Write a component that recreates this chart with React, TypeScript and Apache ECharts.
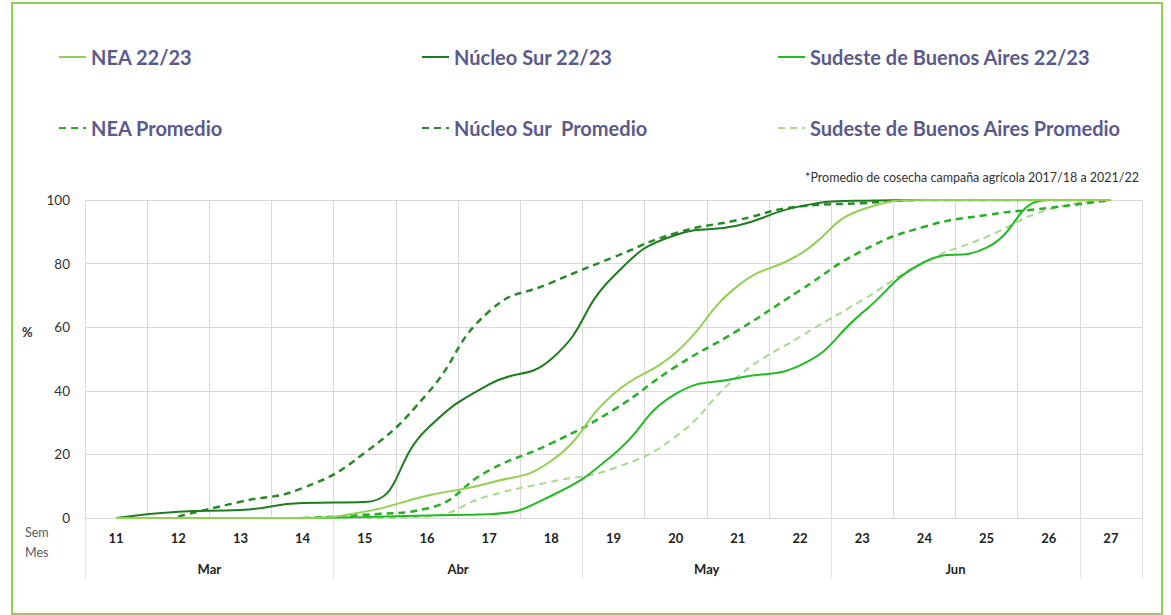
import React, { useEffect, useRef } from "react";
import * as echarts from "echarts";

const weeks = ["11", "12", "13", "14", "15", "16", "17", "18", "19", "20", "21", "22", "23", "24", "25", "26", "27"];
const months = ["Mar", "Abr", "May", "Jun", ""];
const monthSpans = [4, 4, 4, 4, 1];
const yTicks = [0, 20, 40, 60, 80, 100];

const nea2223 = [0, 0, 0, 0, 2, 7, 11, 18, 39, 52, 73, 83, 97, 100, 100, 100, 100];
const nucleo2223 = [0, 2, 2.5, 4.7, 5, 28, 42, 50, 76, 89, 92, 98, 99.8, 100, 100, 100, 100];
const sudeste2223 = [0, 0, 0, 0, 0.3, 0.8, 1.2, 7, 20, 39, 44, 48, 64.5, 80.5, 85, 100, 100];
const neaProm = [null, null, null, 0, 1, 3, 15, 23.5, 34, 47.6, 59, 71.6, 84, 91.6, 95.3, 97.5, 100];
const nucleoProm = [null, 0.5, 5.1, 9.4, 20.5, 39, 65, 74, 82, 89.6, 93.7, 98, 99, 100, 100, 100, 100];
const sudesteProm = [null, null, null, null, 0, 0.5, 7, 11.4, 15.6, 25.6, 44.5, 57, 68.5, 80.5, 88.4, 97, 100];

const seriesNames = [
  "NEA 22/23",
  "Núcleo Sur 22/23",
  "Sudeste de Buenos Aires 22/23",
  "NEA Promedio",
  "Núcleo Sur  Promedio",
  "Sudeste de Buenos Aires Promedio",
];
const seriesData = [nea2223, nucleo2223, sudeste2223, neaProm, nucleoProm, sudesteProm];
const seriesColors = ["#92d050", "#1e7b1e", "#22bb22", "#25b025", "#2a8a2a", "#a6d98a"];
const seriesDashed = [false, false, false, true, true, true];
const seriesWidth = [2, 2, 2, 2.5, 2.5, 2];

const subtitle = "*Promedio de cosecha campaña agrícola 2017/18 a 2021/22";
const FONT = "Lato, 'Open Sans', sans-serif";

export default function App() {
  const ref = useRef<HTMLDivElement>(null);
  useEffect(() => {
    if (!ref.current) return;
    const chart = echarts.init(ref.current, undefined, { renderer: "svg" });

    const monthStarts: number[] = [];
    const monthCenters: number[] = [];
    let acc = 0;
    monthSpans.forEach((s) => {
      monthStarts.push(acc);
      monthCenters.push(acc + s / 2);
      acc += s;
    });

    const legendPos = [
      [53, 40],
      [416, 40],
      [772, 40],
      [53, 111],
      [416, 111],
      [772, 111],
    ];

    const option: any = {
      animation: false,
      backgroundColor: "#ffffff",
      textStyle: { fontFamily: FONT },
      title: {
        text: subtitle,
        right: 27,
        top: 166,
        textStyle: { fontSize: 12.5, fontWeight: "normal", color: "#333333", fontFamily: FONT },
      },
      legend: seriesNames.map((n, i) => ({
        data: [n],
        left: legendPos[i][0],
        top: legendPos[i][1],
        itemWidth: 27,
        itemHeight: 2,
        itemGap: 0,
        selectedMode: false,
        itemStyle: { opacity: 0, borderWidth: 0 },
        textStyle: { fontSize: 20, fontWeight: "bold", color: "#5b5a8c", lineHeight: 24 },
      })),
      grid: { left: 85, right: 29, top: 200, bottom: 97 },
      xAxis: [
        {
          type: "category",
          data: weeks,
          boundaryGap: true,
          axisLine: { show: true, lineStyle: { color: "#d9d9d9" } },
          axisTick: {
            show: true,
            length: 61,
            interval: (index: number) => monthStarts.indexOf(index) >= 0,
            lineStyle: { color: "#e3e3e3" },
          },
          axisLabel: { interval: 0, margin: 13, fontSize: 13, fontWeight: "bold", color: "#222222" },
          splitLine: { show: true, interval: 0, lineStyle: { color: "#d9d9d9" } },
        },
        {
          type: "value",
          min: 0,
          max: weeks.length,
          position: "bottom",
          axisLine: { show: false },
          axisTick: { show: false },
          splitLine: { show: false },
          axisLabel: {
            customValues: monthCenters.filter((_, i) => months[i] !== ""),
            formatter: (v: number) => {
              const i = monthCenters.indexOf(v);
              return i >= 0 ? months[i] : "";
            },
            margin: 44,
            fontSize: 13,
            fontWeight: "bold",
            color: "#222222",
          },
        },
      ],
      yAxis: {
        type: "value",
        min: 0,
        max: 100,
        interval: 20,
        axisLine: { show: false },
        axisTick: { show: false },
        axisLabel: {
          margin: 15,
          fontSize: 13.5,
          color: "#333333",
          formatter: (v: number) => (yTicks.indexOf(v) >= 0 ? String(v) : ""),
        },
        splitLine: { show: true, lineStyle: { color: "#d9d9d9" } },
      },
      graphic: [
        {
          type: "rect",
          shape: { x: 12, y: 3, width: 1150, height: 611 },
          style: { fill: "none", stroke: "#92d050", lineWidth: 2 },
          silent: true,
        },
        {
          type: "text",
          left: 22,
          top: 325,
          style: { text: "%", fontSize: 13, fontWeight: "bold", fill: "#333333", fontFamily: FONT },
        },
        {
          type: "text",
          left: 25,
          top: 526,
          style: { text: "Sem", fontSize: 12.5, fill: "#595959", fontFamily: FONT },
        },
        {
          type: "text",
          left: 25,
          top: 546,
          style: { text: "Mes", fontSize: 12.5, fill: "#595959", fontFamily: FONT },
        },
      ],
      series: seriesNames.map((n, i) => ({
        name: n,
        type: "line",
        data: seriesData[i],
        smooth: 0.5,
        showSymbol: false,
        symbol: "none",
        connectNulls: false,
        color: seriesColors[i],
        lineStyle: {
          color: seriesColors[i],
          width: seriesWidth[i],
          type: seriesDashed[i] ? [7, 5] : "solid",
        },
        z: 3 + (5 - i),
      })),
    };

    chart.setOption(option);
    return () => chart.dispose();
  }, []);

  return (
    <div
      ref={ref}
      style={{ position: "absolute", left: 0, top: 0, width: 1171, height: 615 }}
    />
  );
}
